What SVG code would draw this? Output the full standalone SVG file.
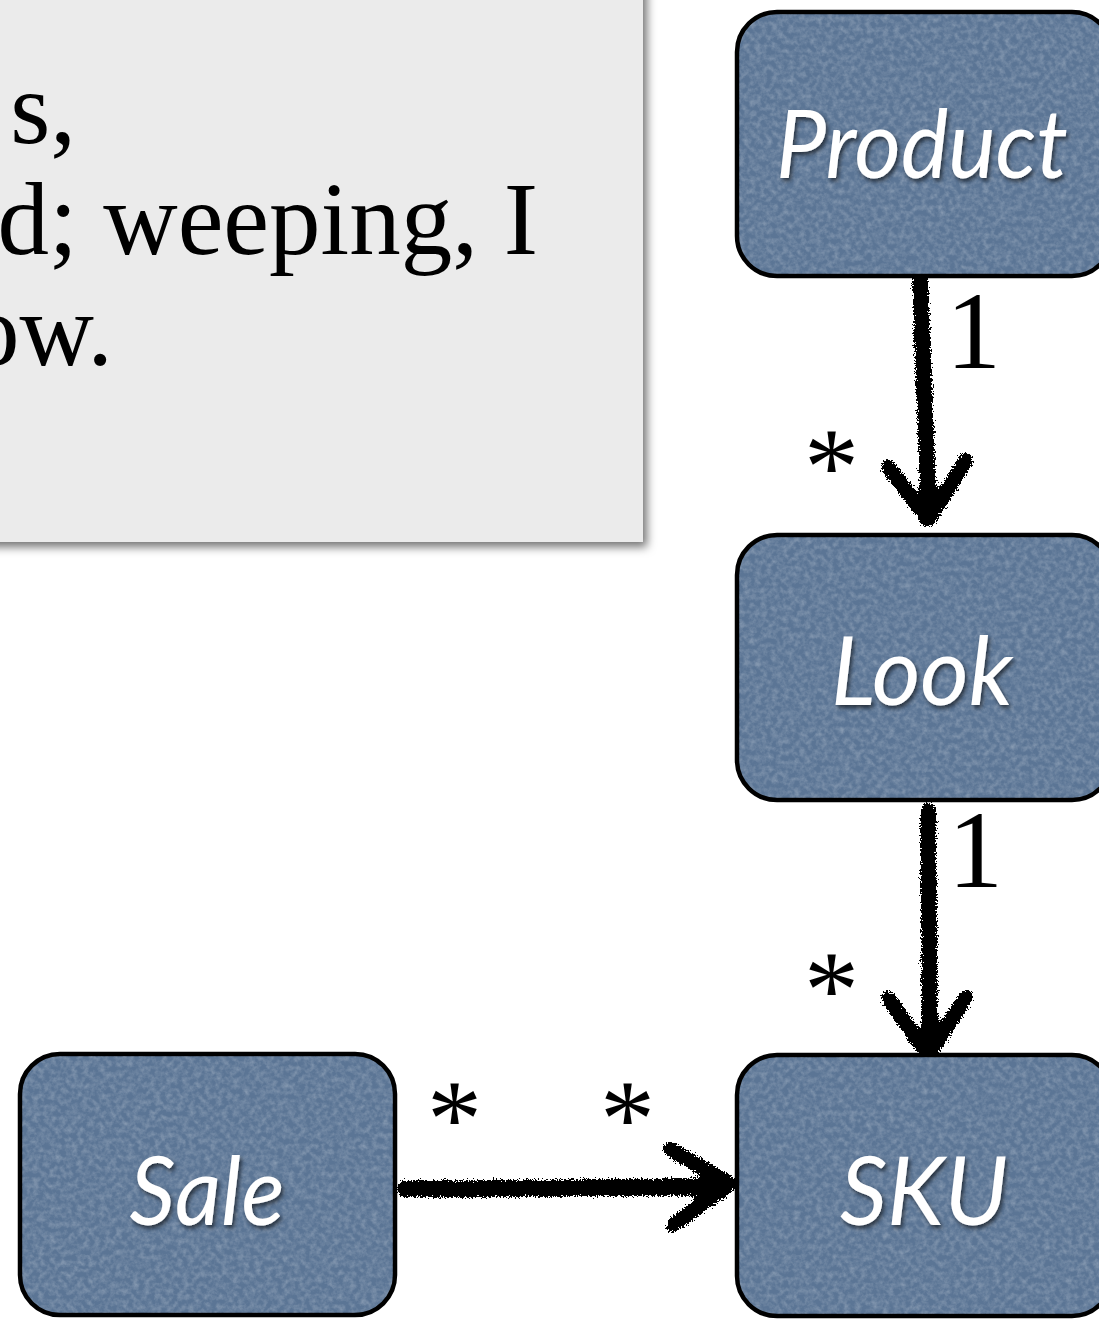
<svg xmlns="http://www.w3.org/2000/svg" width="1099" height="1320" viewBox="0 0 1099 1320">
  <defs>
    <style>
      .note{font-family:"Liberation Serif","Times New Roman",serif;font-size:103px;fill:#000}
      .nodebox{fill:#5b7595;stroke:#000;stroke-width:4.5}
      .grain{fill:#000;filter:url(#grain)}
      .nodelabel{font-family:Lato,"Open Sans",sans-serif;font-style:italic;font-size:96px;fill:#fff;text-anchor:middle;filter:url(#txtshadow)}
      .mult{font-family:"Liberation Serif","Times New Roman",serif;font-size:110px;fill:#000}
      .brush{fill:none;stroke:#000;stroke-linecap:round;stroke-linejoin:round}
    </style>
    <!-- soft shadow under the note card -->
    <filter id="cardshadow" x="-10%" y="-10%" width="130%" height="130%">
      <feDropShadow dx="4" dy="5" stdDeviation="5" flood-color="#000" flood-opacity="0.55"/>
    </filter>
    <!-- fine felt texture for the entity boxes -->
    <filter id="grain" x="0" y="0" width="100%" height="100%">
      <feTurbulence type="fractalNoise" baseFrequency="0.18" numOctaves="3" seed="7" result="t"/>
      <feColorMatrix in="t" type="matrix" values="0 0 0 0 1  0 0 0 0 1  0 0 0 0 1  0.45 0 0 0 -0.16" result="w"/>
      <feComposite in="w" in2="SourceGraphic" operator="in"/>
    </filter>
    <!-- embossed label shadow -->
    <filter id="txtshadow" x="-10%" y="-20%" width="120%" height="150%">
      <feDropShadow dx="2" dy="3" stdDeviation="2" flood-color="#000" flood-opacity="0.6"/>
    </filter>
    <!-- dry-brush stroke: jittered outline with speckled edges -->
    <filter id="rough" x="-30%" y="-10%" width="160%" height="120%">
      <feTurbulence type="fractalNoise" baseFrequency="0.6" numOctaves="3" seed="3" result="n"/>
      <feDisplacementMap in="SourceGraphic" in2="n" scale="8" xChannelSelector="R" yChannelSelector="G" result="d"/>
      <feGaussianBlur in="d" stdDeviation="3" result="b"/>
      <feColorMatrix in="n" type="matrix" values="0 0 0 0 0  0 0 0 0 0  0 0 0 0 0  1 0 0 0 0" result="na"/>
      <feComposite in="b" in2="na" operator="arithmetic" k1="0" k2="1" k3="0.9" k4="-0.45" result="c"/>
      <feComponentTransfer in="c">
        <feFuncA type="discrete" tableValues="0 1"/>
      </feComponentTransfer>
    </filter>
  </defs>

  <rect width="1099" height="1320" fill="#fff"/>

  <!-- note card with quoted text -->
  <g id="note">
    <rect x="-30" y="-30" width="673" height="572" fill="#ebebeb" filter="url(#cardshadow)"/>
    <text class="note" x="76" y="143" text-anchor="end">s,</text>
    <text class="note" x="538" y="254" text-anchor="end">d; weeping, I</text>
    <text class="note" x="113" y="365" text-anchor="end">ow.</text>
  </g>

  <!-- connectors -->
  <g id="connectors">
    <g filter="url(#rough)">
      <path class="brush" stroke-width="16" d="M920 276 L929 515"/>
      <path class="brush" stroke-width="15" d="M888 466 L928 520 L966 460"/>
    </g>
    <g filter="url(#rough)">
      <path class="brush" stroke-width="16" d="M928 810 L930 1035"/>
      <path class="brush" stroke-width="15" d="M888 998 L928 1055 L966 997"/>
    </g>
    <g filter="url(#rough)">
      <path class="brush" stroke-width="17" d="M404 1189 L722 1187"/>
      <path class="brush" stroke-width="15" d="M670 1149 L730 1184 L673 1225"/>
    </g>
    <text class="mult" x="946" y="368">1</text>
    <text class="mult" x="804" y="504">*</text>
    <text class="mult" x="948" y="887">1</text>
    <text class="mult" x="804" y="1027">*</text>
    <text class="mult" x="427" y="1156">*</text>
    <text class="mult" x="600" y="1156">*</text>
  </g>

  <g id="product">
    <rect class="nodebox" x="737" y="12" width="375" height="264" rx="40"/>
    <rect class="grain" x="739" y="14" width="371" height="260" rx="38"/>
    <text class="nodelabel" x="922" y="178" textLength="292" lengthAdjust="spacingAndGlyphs">Product</text>
  </g>

  <g id="look">
    <rect class="nodebox" x="737" y="535" width="375" height="265" rx="40"/>
    <rect class="grain" x="739" y="537" width="371" height="261" rx="38"/>
    <text class="nodelabel" x="922" y="705" textLength="182" lengthAdjust="spacingAndGlyphs">Look</text>
  </g>

  <g id="sku">
    <rect class="nodebox" x="737" y="1055" width="375" height="261" rx="40"/>
    <rect class="grain" x="739" y="1057" width="371" height="257" rx="38"/>
    <text class="nodelabel" x="924" y="1225" textLength="168" lengthAdjust="spacingAndGlyphs">SKU</text>
  </g>

  <g id="sale">
    <rect class="nodebox" x="20" y="1054" width="375" height="261" rx="40"/>
    <rect class="grain" x="22" y="1056" width="371" height="257" rx="38"/>
    <text class="nodelabel" x="207" y="1225" textLength="155" lengthAdjust="spacingAndGlyphs">Sale</text>
  </g>
</svg>
